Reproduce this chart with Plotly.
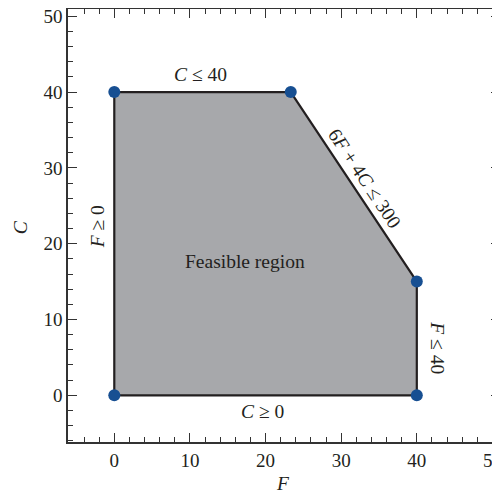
import plotly.graph_objects as go

# Vertices of the feasible region (F, C)
vert_F = [0, 0, 23.333, 40, 40]
vert_C = [0, 40, 40, 15, 0]

x_ticks = [0, 10, 20, 30, 40, 50]
y_ticks = [0, 10, 20, 30, 40, 50]

FONT = "Liberation Serif, Times New Roman, serif"
TXT = "#231f20"
FS = 19
FA = 19.5

fig = go.Figure()
fig.add_trace(go.Scatter(
    x=vert_F + [vert_F[0]], y=vert_C + [vert_C[0]],
    mode="lines", fill="toself", fillcolor="#a7a8ab",
    line=dict(color="#231f20", width=2.2), hoverinfo="skip", showlegend=False))
fig.add_trace(go.Scatter(
    x=vert_F, y=vert_C, mode="markers",
    marker=dict(color="#174f92", size=12), showlegend=False, cliponaxis=False))

ann = [
    dict(x=11.4, y=42.3, text="<i>C</i> ≤ 40", textangle=0),
    dict(x=33.1, y=28.6, text="6<i>F</i> + 4<i>C</i> ≤ 300", textangle=56.3),
    dict(x=-2.25, y=22.2, text="<i>F</i> ≥ 0", textangle=-90),
    dict(x=17.3, y=17.7, text="Feasible region", textangle=0),
    dict(x=42.7, y=6.3, text="<i>F</i> ≤ 40", textangle=90),
    dict(x=19.55, y=-2.1, text="<i>C</i> ≥ 0", textangle=0),
]
for a in ann:
    fig.add_annotation(x=a["x"], y=a["y"], text=a["text"], textangle=a["textangle"],
                       xanchor="center", yanchor="middle",
                       showarrow=False, font=dict(family=FONT, size=FA, color=TXT))

# axis titles
fig.add_annotation(xref="paper", yref="paper", x=0.498, y=-0.095, text="<i>F</i>",
                   xanchor="center", yanchor="middle",
                   showarrow=False, font=dict(family=FONT, size=FA, color=TXT))
fig.add_annotation(xref="paper", yref="paper", x=-0.111, y=0.496, text="<i>C</i>", textangle=-90,
                   xanchor="center", yanchor="middle",
                   showarrow=False, font=dict(family=FONT, size=FA, color=TXT))

axis_common = dict(
    showgrid=False, zeroline=False, showline=True, linecolor="#333333", linewidth=1.5,
    mirror="ticks", ticks="inside", ticklen=9, tickwidth=1.3, tickcolor="#333333",
    tickfont=dict(family=FONT, size=FS, color=TXT), automargin=False,
    ticklabeloverflow="allow",
    minor=dict(ticks="inside", dtick=2, ticklen=5, tickwidth=1.1, tickcolor="#333333"),
)

fig.update_layout(
    width=492, height=484,
    margin=dict(l=60, r=0, t=1, b=50),
    paper_bgcolor="white", plot_bgcolor="white",
    xaxis=dict(range=[-6.12, 51.0], tickvals=x_ticks, ticktext=[str(v) for v in x_ticks],
               **axis_common),
    yaxis=dict(range=[-6.16, 50.96], tickvals=y_ticks, ticktext=[str(v) for v in y_ticks],
               **axis_common),
)
fig.write_html("out.html")
